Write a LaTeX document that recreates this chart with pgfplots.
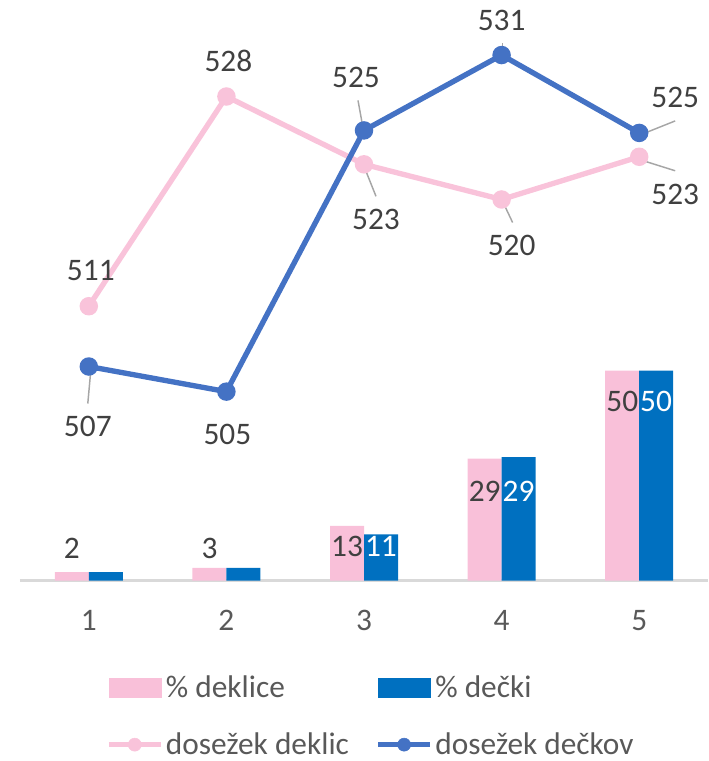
\documentclass[border=0pt]{standalone}
\usepackage{fontspec}
\setmainfont{Carlito}
\usepackage{pgfplots}
\usepackage{pgfplotstable}
\pgfplotsset{compat=1.18}
\definecolor{PinkBar}{HTML}{F9C0D9}
\definecolor{PinkLine}{HTML}{F9C3DA}
\definecolor{BlueBar}{HTML}{0070C0}
\definecolor{BlueLine}{HTML}{4472C4}
\definecolor{LblGray}{HTML}{404040}
\definecolor{TxtGray}{HTML}{595959}
\definecolor{LeadGray}{HTML}{A6A6A6}
\definecolor{AxGray}{HTML}{D9D9D9}
\newcommand\lbl{\fontsize{23.5}{28}\selectfont}

% bar values (percent)
\pgfplotstableread{
x deklice decki
1 2 2
2 3 3
3 13 11
4 29 29.4
5 50 50
}\bars
% bar label positions
\pgfplotstableread{
x y lab
0.877 7.7 2
1.877 7.7 3
2.877 8.2 13
3.877 21.3 29
4.877 42.7 50
}\darklabels
\pgfplotstableread{
x y lab
3.123 8.2 11
4.123 21.3 29
5.123 42.7 50
}\whitelabels
% achievement lines, label offsets in px
\pgfplotstableread{
x val dx dy
1 511.4 2 36
2 528.1 2 36
3 522.7 12 -55
4 519.9 10 -46
5 523.3 36 -38
}\dekl
\pgfplotstableread{
x val dx dy
1 506.6 -1 -60
2 504.6 1 -43
3 525.4 -8 53
4 531.4 0 35
5 525.2 36 35
}\deck

\pgfplotsset{
  base/.style={at={(15pt,-435.375pt)},anchor=south west,scale only axis,
    width=516pt,height=421.875pt,xmin=0.5,xmax=5.5,clip=false,
    /pgf/number format/assume math mode=true},
  lineplot/.style={line width=4pt,mark=*,mark size=4.9pt,
    mark options={draw=none,fill=#1},
    visualization depends on={\thisrow{dx}\as\ldx},
    visualization depends on={\thisrow{dy}\as\ldy},
    nodes near coords={\pgfmathprintnumber[fixed,precision=0,assume math mode=true]{\pgfplotspointmeta}},
    every node near coord/.append style={anchor=center,font=\lbl,text=LblGray,
      xshift=0.75*\ldx pt,yshift=0.75*\ldy pt}},
}

\begin{document}
\begin{tikzpicture}
\useasboundingbox (0,0) rectangle (531pt,-570.75pt);
\begin{axis}[base,ymin=0,ymax=133.93,
  axis x line*=bottom,hide y axis,
  x axis line style={AxGray,line width=1.6pt},
  xtick={1,2,3,4,5},major tick length=0pt,
  xticklabel style={font=\lbl,text=TxtGray,inner sep=0pt,anchor=north,yshift=-22pt}]
\addplot[ybar,bar width=25.5pt,bar shift=-12.75pt,fill=PinkBar,draw=none]
  table[x=x,y=deklice]{\bars};
\addplot[ybar,bar width=25.5pt,bar shift=12.75pt,fill=BlueBar,draw=none]
  table[x=x,y=decki]{\bars};
\addplot[draw=none,mark=none,point meta=explicit symbolic,nodes near coords,
  every node near coord/.append style={anchor=center,font=\lbl,text=LblGray}]
  table[x=x,y=y,meta=lab]{\darklabels};
\addplot[draw=none,mark=none,point meta=explicit symbolic,nodes near coords,
  every node near coord/.append style={anchor=center,font=\lbl,text=white}]
  table[x=x,y=y,meta=lab]{\whitelabels};
\end{axis}
\begin{axis}[base,ymin=489.56,ymax=534.35,hide x axis,hide y axis,
  legend columns=2,legend cell align=left,
  legend style={at={(0.125,-0.164)},anchor=north west,draw=none,fill=none,
    inner sep=0pt,font=\lbl,text=TxtGray,row sep=21pt,
    /tikz/every even column/.append style={column sep=18pt}}]
\addlegendimage{legend image code/.code={\fill[PinkBar] (0pt,-7.1pt) rectangle (39pt,7.1pt);}}
\addlegendimage{legend image code/.code={\fill[BlueBar] (0pt,-7.1pt) rectangle (39pt,7.1pt);}}
\addlegendimage{legend image code/.code={\draw[PinkLine,line width=3.75pt] (0pt,0pt) -- (39pt,0pt);
  \fill[PinkLine] (19.5pt,0pt) circle (4.9pt);}}
\addlegendimage{legend image code/.code={\draw[BlueLine,line width=3.75pt] (0pt,0pt) -- (39pt,0pt);
  \fill[BlueLine] (19.5pt,0pt) circle (4.9pt);}}
\addplot[forget plot,PinkLine,lineplot=PinkLine] table[x=x,y=val]{\dekl};
\addplot[forget plot,BlueLine,lineplot=BlueLine] table[x=x,y=val]{\deck};
% leader lines
\draw[LeadGray,line width=1.1pt] (axis cs:3,522.7) ++(0pt,-1.5pt) -- ++(9pt,-22.5pt);
\draw[LeadGray,line width=1.1pt] (axis cs:4,519.9) ++(1.5pt,-3pt) -- ++(6.75pt,-14.25pt);
\draw[LeadGray,line width=1.1pt] (axis cs:5,523.3) ++(0.75pt,-2.25pt) -- ++(26.25pt,-8.25pt);
\draw[LeadGray,line width=1.1pt] (axis cs:1,506.6) ++(1.5pt,-3pt) -- ++(-2.25pt,-24.75pt);
\draw[LeadGray,line width=1.1pt] (axis cs:3,525.4) ++(0pt,-2.25pt) -- ++(-4.5pt,24.75pt);
\draw[LeadGray,line width=1.1pt] (axis cs:4,531.4) ++(0.75pt,9pt) -- ++(0pt,-11.25pt);
\draw[LeadGray,line width=1.1pt] (axis cs:5,525.2) ++(0.75pt,-1.5pt) -- ++(26.25pt,10.5pt);
\legend{\% deklice,\% dečki,dosežek deklic,dosežek dečkov}
\end{axis}
\end{tikzpicture}
\end{document}
